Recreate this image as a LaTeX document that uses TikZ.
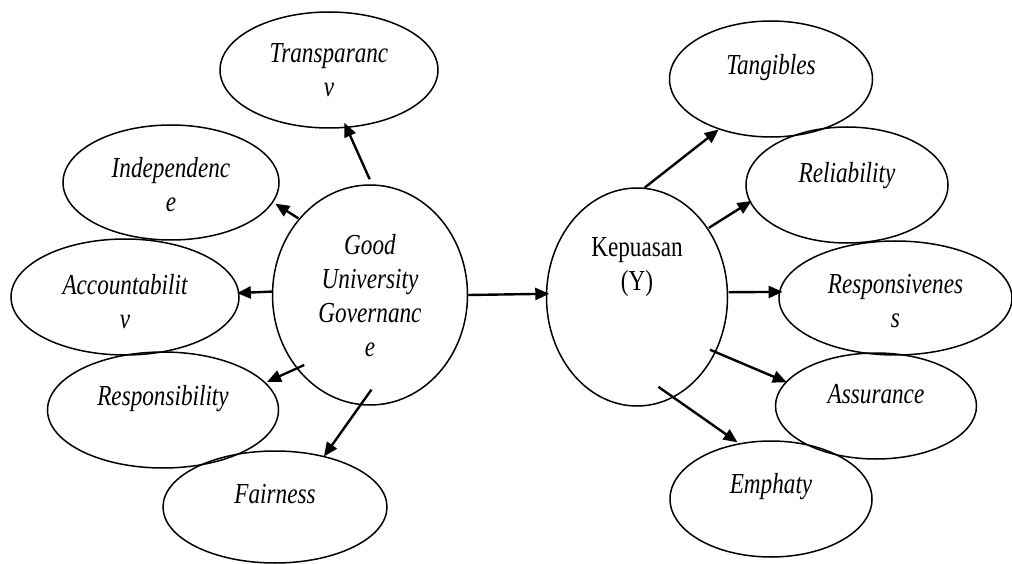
\documentclass[tikz,border=0pt]{standalone}
\usepackage{fontspec}
\setmainfont{Liberation Serif}
\newfontfamily\narrowserif{Liberation Serif}[FakeStretch=0.8]
\usetikzlibrary{shapes.geometric,arrows.meta}
\begin{document}
\begin{tikzpicture}[
        x=1pt, y=-1pt,
        oval/.style={draw, ellipse, line width=1.5pt, inner sep=0pt},
        word/.style={anchor=north, inner sep=0pt, align=center,
            font=\narrowserif\fontsize{29}{34}\selectfont\itshape},
        upright/.style={word, font=\narrowserif\fontsize{29}{34}\selectfont},
        arr/.style={line width=2.4pt, -{Triangle[length=14pt,width=12pt]}},
    ]
    \useasboundingbox (0,0) rectangle (1012,564);
    % left side: Good University Governance
    \node[oval, minimum width=195, minimum height=220] (gug) at (370,295) {};
    \node[oval, minimum width=218, minimum height=116] (transp) at (329,70) {};
    \node[oval, minimum width=216, minimum height=115] (indep) at (171,182.5) {};
    \node[oval, minimum width=228, minimum height=116] (acct) at (125,297) {};
    \node[oval, minimum width=231, minimum height=116] (resp) at (163,410) {};
    \node[oval, minimum width=224, minimum height=112] (fair) at (275,507) {};
    % right side: Kepuasan
    \node[oval, minimum width=181, minimum height=218] (kep) at (637,297) {};
    \node[oval, minimum width=203, minimum height=116] (tang) at (771,79) {};
    \node[oval, minimum width=202, minimum height=116] (reli) at (847,185) {};
    \node[oval, minimum width=233, minimum height=114] (respv) at (895.5,298) {};
    \node[oval, minimum width=201, minimum height=106] (assur) at (876,406) {};
    \node[oval, minimum width=202, minimum height=116] (emph) at (771,499) {};

    % texts
    \node[word] (gug-t) at ([yshift=60.5pt]gug.center) {Good\\University\\Governanc\\e};
    \node[word] (transp-t) at ([yshift=26.5pt]transp.center) {Transparanc\\v};
    \node[word] (indep-t) at ([yshift=25pt]indep.center) {Independenc\\e};
    \node[word] (acct-t) at ([yshift=22.5pt]acct.center) {Accountabilit\\v};
    \node[word] (resp-t) at ([yshift=24.5pt]resp.center) {Responsibility};
    \node[word] (fair-t) at ([yshift=22.5pt]fair.center) {Fairness};
    \node[upright] (kep-t) at ([yshift=59.5pt]kep.center) {Kepuasan\\(Y)};
    \node[word] (tang-t) at ([yshift=24.5pt]tang.center) {Tangibles};
    \node[word] (reli-t) at ([yshift=22.5pt]reli.center) {Reliability};
    \node[word] (respv-t) at ([yshift=23.5pt]respv.center) {Responsivenes\\s};
    \node[word] (assur-t) at ([yshift=21.5pt]assur.center) {Assurance};
    \node[word] (emph-t) at ([yshift=25.5pt]emph.center) {Emphaty};

    % arrows
    \draw[arr, shorten <=5.5pt, shorten >=-5.7pt] (gug.89.4) -- (transp.287.6);
    \draw[arr, shorten <=0.5pt, shorten >=2.5pt] (gug.133.8) -- (indep.349.4);
    \draw[arr, shorten >=-2.6pt] (gug.178.2) -- (acct.2.5);
    \draw[arr, shorten <=-8.5pt, shorten >=1.5pt] (gug.225.1) -- (resp.15.8);
    \draw[arr, shorten <=-19.1pt, shorten >=-0.6pt] (gug.265.2) -- (fair.46.2);
    \draw[arr, shorten >=-3.5pt] (gug.0.6) -- (kep.178.1);
    \draw[arr] (kep.86.9) -- (tang.224.4);
    \draw[arr, shorten <=0.8pt, shorten >=-2.2pt] (kep.44.3) -- (reli.190.7);
    \draw[arr, shorten <=0.5pt, shorten >=-3.7pt] (kep.3.8) -- (respv.177.9);
    \draw[arr, shorten <=-6.4pt, shorten >=-1.2pt] (kep.325.8) -- (assur.165.4);
    \draw[arr, shorten <=-18.5pt, shorten >=1.6pt] (kep.290.9) -- (emph.120);
\end{tikzpicture}
\end{document}
